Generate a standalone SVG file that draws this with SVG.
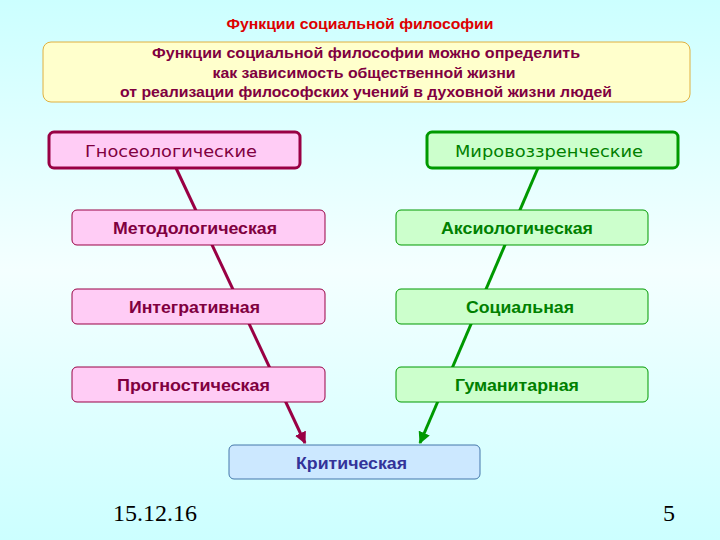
<svg xmlns="http://www.w3.org/2000/svg" width="720" height="540" viewBox="0 0 720 540">
<defs>
<linearGradient id="bg" x1="0" y1="0" x2="0" y2="1">
<stop offset="0" stop-color="#ccffff"/>
<stop offset="0.5" stop-color="#f4ffff"/>
<stop offset="1" stop-color="#ccffff"/>
</linearGradient>
<marker id="am" viewBox="0 0 10 10" refX="9" refY="5" markerWidth="4" markerHeight="4" orient="auto" markerUnits="strokeWidth">
<path d="M0,0 L10,5 L0,10 z" fill="#990044"/>
</marker>
<marker id="ag" viewBox="0 0 10 10" refX="9" refY="5" markerWidth="4" markerHeight="4" orient="auto" markerUnits="strokeWidth">
<path d="M0,0 L10,5 L0,10 z" fill="#009900"/>
</marker>
</defs>
<style>
.b{font-family:"Liberation Sans",Arial,sans-serif;font-weight:bold;font-size:16px;text-anchor:middle}
.s{font-size:14px}
.h{font-family:"DejaVu Sans",Verdana,sans-serif;font-size:16px;text-anchor:middle}
.pk{fill:#ffccf5;stroke:#990044;stroke-width:1}
.gr{fill:#ccffcc;stroke:#009900;stroke-width:1}
.m{fill:#800040}
.g{fill:#008000}
</style>
<rect width="720" height="540" fill="url(#bg)"/>
<text x="360" y="29" class="b s" fill="#dd0000" textLength="267" lengthAdjust="spacingAndGlyphs">Функции социальной философии</text>
<g id="intro">
<rect x="43" y="42" width="647" height="60" rx="8" fill="#ffffcc" stroke="#e0b040" stroke-width="1"/>
<text x="366" y="58" class="b s m" textLength="428" lengthAdjust="spacingAndGlyphs">Функции социальной философии можно определить</text>
<text x="364" y="78" class="b s m" textLength="303" lengthAdjust="spacingAndGlyphs">как зависимость общественной жизни</text>
<text x="366" y="97" class="b s m" textLength="492" lengthAdjust="spacingAndGlyphs">от реализации философских учений в духовной жизни людей</text>
</g>
<g id="connectors">
<line x1="176" y1="168" x2="305" y2="443" stroke="#990044" stroke-width="3" marker-end="url(#am)"/>
<line x1="538" y1="168" x2="420" y2="443" stroke="#009900" stroke-width="3" marker-end="url(#ag)"/>
</g>
<g id="gnoseo">
<rect x="49" y="132" width="251" height="36" rx="5" fill="#ffccf5" stroke="#990044" stroke-width="3"/>
<text x="171" y="157" class="h m" textLength="172" lengthAdjust="spacingAndGlyphs">Гносеологические</text>
</g>
<g id="mirovozz">
<rect x="427" y="132" width="251" height="36" rx="5" fill="#ccffcc" stroke="#009900" stroke-width="3"/>
<text x="549" y="157" class="h g" textLength="188" lengthAdjust="spacingAndGlyphs">Мировоззренческие</text>
</g>
<g id="metod">
<rect x="72" y="210" width="253" height="35" rx="5" class="pk"/>
<text x="195" y="234" class="b m" textLength="164" lengthAdjust="spacingAndGlyphs">Методологическая</text>
</g>
<g id="integr">
<rect x="72" y="289" width="253" height="35" rx="5" class="pk"/>
<text x="194.5" y="313" class="b m" textLength="131" lengthAdjust="spacingAndGlyphs">Интегративная</text>
</g>
<g id="progn">
<rect x="72" y="367" width="253" height="35" rx="5" class="pk"/>
<text x="193.5" y="391" class="b m" textLength="153" lengthAdjust="spacingAndGlyphs">Прогностическая</text>
</g>
<g id="aksio">
<rect x="396" y="210" width="252" height="35" rx="5" class="gr"/>
<text x="517" y="234" class="b g" textLength="152" lengthAdjust="spacingAndGlyphs">Аксиологическая</text>
</g>
<g id="social">
<rect x="396" y="289" width="252" height="35" rx="5" class="gr"/>
<text x="520" y="313" class="b g" textLength="108" lengthAdjust="spacingAndGlyphs">Социальная</text>
</g>
<g id="human">
<rect x="396" y="367" width="252" height="35" rx="5" class="gr"/>
<text x="517" y="391" class="b g" textLength="124" lengthAdjust="spacingAndGlyphs">Гуманитарная</text>
</g>
<g id="krit">
<rect x="229" y="445" width="251" height="34" rx="5" fill="#cce8ff" stroke="#4477aa" stroke-width="1"/>
<text x="351.5" y="469" class="b" fill="#333399" textLength="111" lengthAdjust="spacingAndGlyphs">Критическая</text>
</g>
<text x="113" y="521" font-family="Liberation Serif,serif" font-size="24" fill="#000">15.12.16</text>
<text x="669" y="521" font-family="Liberation Serif,serif" font-size="24" fill="#000" text-anchor="middle">5</text>
</svg>
